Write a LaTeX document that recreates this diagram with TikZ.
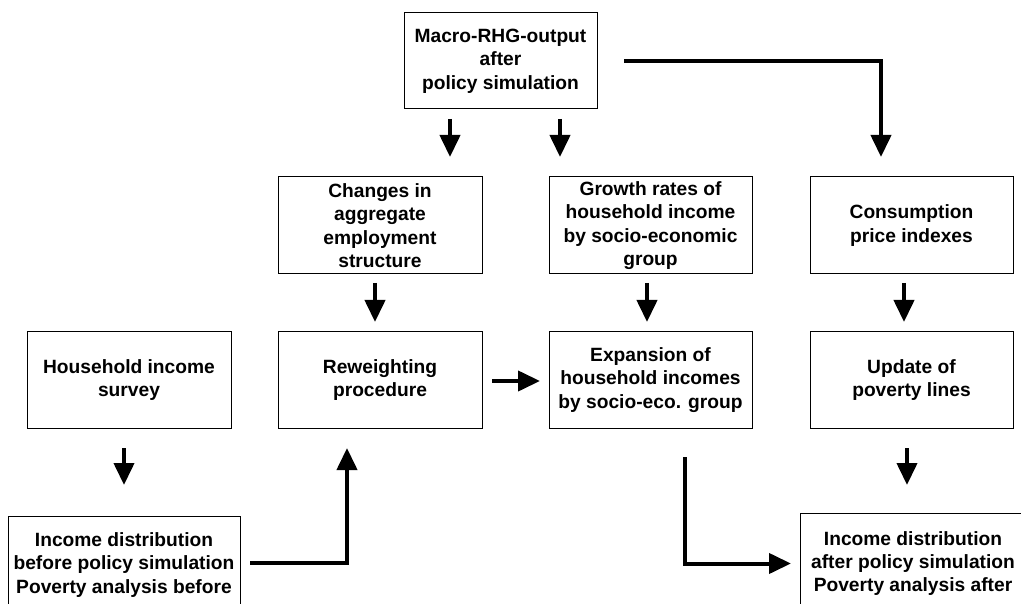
\documentclass[tikz,border=0pt]{standalone}
\usepackage{fontspec}
\setmainfont{Liberation Sans}
\usetikzlibrary{arrows.meta,calc}
\begin{document}
\begin{tikzpicture}[x=1pt,y=-1pt,
  box/.style={draw=black,line width=1pt,fill=white,inner sep=0pt,outer sep=0pt,
    align=center,font=\bfseries\fontsize{19.2}{23.3}\selectfont,
    minimum height=96pt,minimum width=204pt},
  arr/.style={line width=4pt,-{Triangle[length=22pt,width=20pt]}}]
\useasboundingbox (0,0) rectangle (1021,604);
\clip (0,0) rectangle (1021,604);
\node[box,minimum width=193pt] (top) at (500.5,61) {Macro-RHG-output\\after\\policy simulation};
\node[box,minimum height=97pt] (chg) at (380,225.5) {Changes in\\aggregate\\employment\\structure};
\node[box,minimum height=97pt,minimum width=203pt] (grw) at (650.5,225.5) {Growth rates of\\household income\\by socio-economic\\group};
\node[box,minimum height=97pt,minimum width=203pt] (cpi) at (911.5,225.5) {Consumption\\price indexes};
\node[box] (hh) at (129,380) {Household income\\survey};
\node[box] (rw) at (380,380) {Reweighting\\procedure};
\node[box,minimum width=203pt] (exp) at (650.5,380) {Expansion of\\household incomes\\by socio-eco. group};
\node[box,minimum width=203pt] (upd) at (911.5,380) {Update of\\poverty lines};
\node[box,minimum width=232pt,minimum height=98pt] (bl) at (124,565) {Income distribution\\before policy simulation\\Poverty analysis before};
\node[box,minimum width=226pt,minimum height=101pt] (br) at (913,563.5) {Income distribution\\after policy simulation\\Poverty analysis after};
\draw[arr] ($(top.south)+(-50.5,10)$) -- ($(chg.north)+(70,-20)$);
\draw[arr] ($(top.south)+(59.5,10)$) -- ($(grw.north)+(-90.5,-20)$);
\draw[arr] ($(top.east)+(27,0)$) -| ($(cpi.north)+(-30.5,-20)$);
\draw[arr] ($(chg.south)+(-5,9)$) -- ($(rw.north)+(-5,-10)$);
\draw[arr] ($(grw.south)+(-3.5,9)$) -- ($(exp.north)+(-3.5,-10)$);
\draw[arr] ($(cpi.south)+(-7.5,9)$) -- ($(upd.north)+(-7.5,-10)$);
\draw[arr] ($(rw.east)+(10,1)$) -- ($(exp.west)+(-9,1)$);
\draw[arr] ($(hh.south)+(-5,20)$) -- ($(bl.north)+(0,-31)$);
\draw[arr] ($(upd.south)+(-4.5,20)$) -- ($(br.north)+(-6,-28)$);
\draw[arr] ($(bl.east)+(10,-2)$) -| ($(rw.south)+(-33,20)$);
\draw[arr] ($(exp.south)+(34.5,29)$) |- ($(br.west)+(-9,0)$);
\end{tikzpicture}
\end{document}
